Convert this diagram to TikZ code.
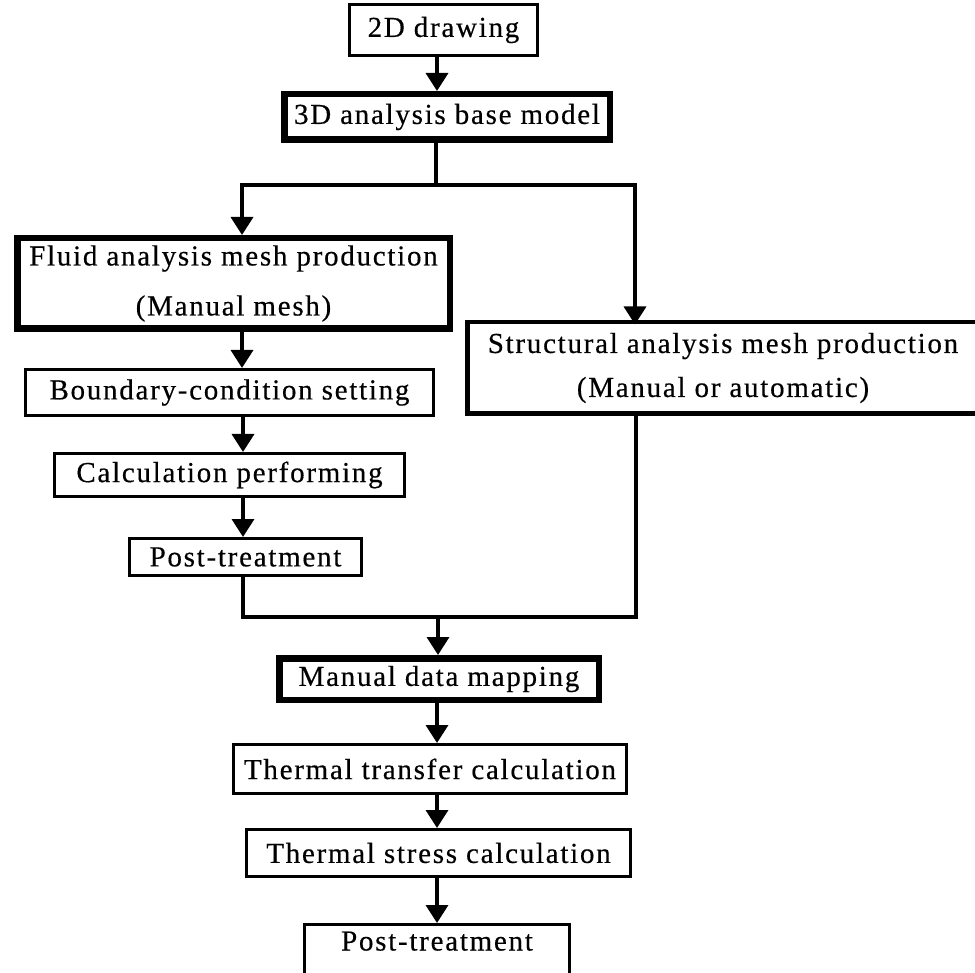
\documentclass[tikz,border=0pt]{standalone}
\usepackage{fontspec}
\setmainfont{Liberation Serif}[LetterSpace=6,FakeBold=0.4]
\usetikzlibrary{arrows.meta}
\tikzset{
  box/.style={draw=black, rectangle, inner sep=0pt, align=center,
    font=\fontsize{29}{34}\selectfont},
  thinbox/.style={box, line width=3pt},
  midline/.style={line width=4.5pt, draw=black},
  thickbox/.style={box, line width=6.5pt},
  conn/.style={line width=3.5pt, draw=black},
  arr/.style={conn, -{Triangle[width=22pt,length=18pt]}},
}
\begin{document}
\begin{tikzpicture}[x=1pt, y=-1pt]
\useasboundingbox (0,0) rectangle (975,973);
\clip (0,0) rectangle (975,973);
\fill[white] (0,0) rectangle (975,973);

\node[thinbox, minimum width=188pt, minimum height=51pt] (d2) at (443.5,30) {2D drawing};
\node[thickbox, minimum width=325.5pt, minimum height=45.5pt] (m3d) at (447,117) {3D analysis base model};
\node[thickbox, minimum width=432.5pt, minimum height=90.5pt,
      font=\fontsize{29}{50}\selectfont] (fluid) at (233.5,283.5)
      {Fluid analysis mesh production\\(Manual mesh)};
\node[thinbox, minimum width=408pt, minimum height=46pt] (bnd) at (229.5,392.5) {Boundary-condition setting};
\node[thinbox, minimum width=350pt, minimum height=43pt] (calc) at (229.5,475) {Calculation performing};
\node[thinbox, minimum width=232pt, minimum height=37pt] (post1) at (245.5,557) {Post-treatment};
\node[box, draw=none, outer sep=0pt, minimum width=511.5pt, minimum height=91.5pt,
      font=\fontsize{29}{44}\selectfont] (struct) at (723,368)
      {Structural analysis mesh production\\(Manual or automatic)};
\coordinate (edge) at (975,0);
\draw[midline] (struct.north west -| edge) -- (struct.north west)
  -- (struct.south west) -- (struct.south west -| edge);
\node[thickbox, minimum width=319.5pt, minimum height=41.5pt] (map) at (439,679) {Manual data mapping};
\node[thinbox, minimum width=393pt, minimum height=49pt] (trans) at (430,769) {Thermal transfer calculation};
\node[thinbox, minimum width=384pt, minimum height=47pt] (stress) at (438.5,853) {Thermal stress calculation};
\node[thinbox, anchor=north, minimum width=265pt, text height=26pt, text depth=74pt] (post2) at (437,923) {Post-treatment};

\coordinate (vtop) at (437,0);
\coordinate (j1) at (436,185);
\coordinate (cL) at (242,185);
\coordinate (cR) at (635,185);
\coordinate (vl) at (243,0);
\coordinate (b1) at (243,617);
\coordinate (b2) at (636,617);
\coordinate (jm) at (438,617);
\coordinate (vb) at (437,0);

\draw[arr] (d2.south -| vtop) -- (m3d.north -| vtop);
\draw[conn] (m3d.south -| j1) -- (j1);
\draw[arr] (j1) -- (cL) -- (fluid.north -| cL);
\draw[arr] (j1) -- (cR) -- ([yshift=-2.25pt]struct.north -| cR);
\draw[arr] (fluid.south -| cL) -- (bnd.north -| cL);
\draw[arr] (bnd.south -| vl) -- (calc.north -| vl);
\draw[arr] (calc.south -| vl) -- (post1.north -| vl);
\draw[conn] (post1.south -| b1) -- (b1) -- (b2) -- ([yshift=2.25pt]struct.south -| b2);
\draw[arr] (jm) -- (map.north -| jm);
\draw[arr] (map.south -| vb) -- (trans.north -| vb);
\draw[arr] (trans.south -| vb) -- (stress.north -| vb);
\draw[arr] (stress.south -| vb) -- (post2.north -| vb);
\end{tikzpicture}
\end{document}
